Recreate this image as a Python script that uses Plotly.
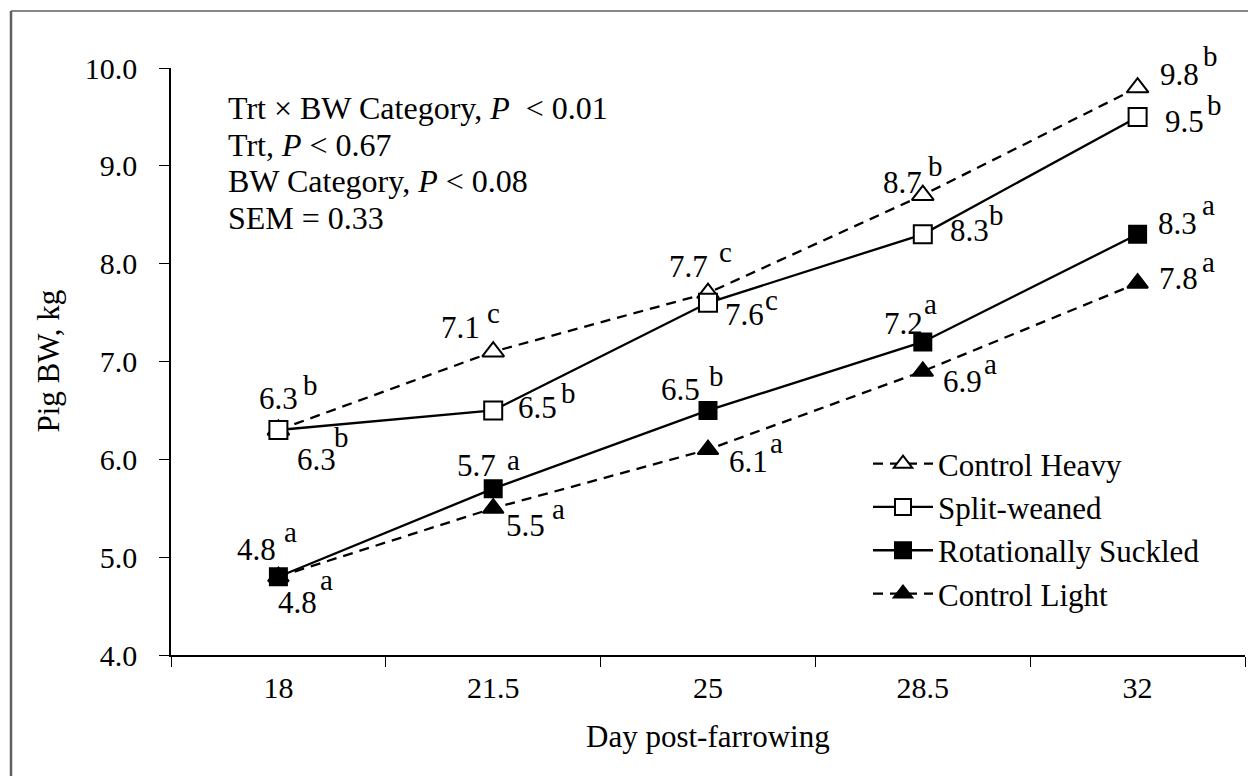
import plotly.graph_objects as go

# ---- data ----
days = ["18", "21.5", "25", "28.5", "32"]

control_heavy = [6.3, 7.1, 7.7, 8.7, 9.8]
split_weaned = [6.3, 6.5, 7.6, 8.3, 9.5]
rot_suckled = [4.8, 5.7, 6.5, 7.2, 8.3]
control_light = [4.8, 5.5, 6.1, 6.9, 7.8]

ch_letters = ["b", "c", "c", "b", "b"]
sw_letters = ["b", "b", "c", "b", "b"]
rs_letters = ["a", "a", "b", "a", "a"]
cl_letters = ["a", "a", "a", "a", "a"]

y_ticks = [4.0, 5.0, 6.0, 7.0, 8.0, 9.0, 10.0]

stats_lines = [
    "Trt \u00d7 BW Category, <i>P</i>\u00a0\u00a0< 0.01",
    "Trt, <i>P</i> < 0.67",
    "BW Category, <i>P</i> < 0.08",
    "SEM = 0.33",
]

# ---- label placement (screen px): number centre offset from the point,
#      then the letter offset from the number ----
ch_place = [(0, -31, 32, -14), (-33, -24, 33, -12), (-20, -27, 37, -11),
            (-20, -13, 33, -16), (42, -13, 31, -19)]
sw_place = [(38, 30, 25, -23), (44, -3, 31, -14), (36, 12, 27, -12),
            (47, -4, 27, -15), (47, 5, 30, -17)]
rs_place = [(-22, -27, 34, -15), (-17, -23, 37, -3), (-28, -21, 36, -13),
            (-19, -18, 27, -17), (40, -11, 31, -15)]
cl_place = [(19, 26, 29, -20), (32, 17, 33, -13), (40, 12, 28, -16),
            (40, 10, 28, -14), (41, -5, 30, -13)]

FONT = "Liberation Serif"
W, H = 1248, 776
L, R, T, B = 171, 3, 68, 121
PW, PH = W - L - R, H - T - B


def px_x(p):
    return (p - L) / PW


def px_y(p):
    return (H - B - p) / PH


xs = list(range(len(days)))

series = [
    # name, values, symbol, fill, dash, legend rank, marker size
    ("Control Heavy", control_heavy, "triangle-up", "white", "10px,7px", 1, 19),
    ("Split-weaned", split_weaned, "square", "white", "solid", 2, 18),
    ("Control Light", control_light, "triangle-up", "black", "10px,7px", 4, 18),
    ("Rotationally Suckled", rot_suckled, "square", "black", "solid", 3, 17),
]

fig = go.Figure()
for name, vals, sym, fill, dash, rank, size in series:
    fig.add_trace(go.Scatter(
        x=xs, y=vals, name=name, mode="lines+markers",
        line=dict(color="black", width=2.3, dash=dash),
        marker=dict(symbol=sym, size=size, color=fill,
                    line=dict(color="black", width=2)),
        legendrank=rank,
        cliponaxis=False,
    ))

annotations = []
for vals, letters, place in [
    (control_heavy, ch_letters, ch_place),
    (split_weaned, sw_letters, sw_place),
    (rot_suckled, rs_letters, rs_place),
    (control_light, cl_letters, cl_place),
]:
    for i, (v, let, (dx, dy, lx, ly)) in enumerate(zip(vals, letters, place)):
        annotations.append(dict(
            x=i, y=v, xref="x", yref="y", text=f"{v:.1f}", showarrow=False,
            xanchor="center", yanchor="middle", xshift=dx, yshift=-dy,
            font=dict(family=FONT, size=31, color="black"),
        ))
        lift = 3 if let in "ac" else 0
        annotations.append(dict(
            x=i, y=v, xref="x", yref="y", text=let, showarrow=False,
            xanchor="center", yanchor="middle", xshift=dx + lx,
            yshift=-(dy + ly) + lift,
            font=dict(family=FONT, size=29, color="black"),
        ))

# statistics block
for k, line in enumerate(stats_lines):
    annotations.append(dict(
        x=px_x(226), y=px_y(108 + 36.7 * k), xref="paper", yref="paper",
        text=line, showarrow=False, xanchor="left", yanchor="middle",
        font=dict(family=FONT, size=32, color="black"),
    ))

# axis titles
annotations.append(dict(
    x=px_x(48), y=0.5, xref="paper", yref="paper", text="Pig BW, kg",
    textangle=-90, showarrow=False, xanchor="center", yanchor="middle",
    font=dict(family=FONT, size=31, color="black"),
))
annotations.append(dict(
    x=0.5, y=px_y(737), xref="paper", yref="paper", text="Day post-farrowing",
    showarrow=False, xanchor="center", yanchor="middle",
    font=dict(family=FONT, size=31, color="black"),
))

# outer chart frame (left and top edges)
shapes = [
    dict(type="line", xref="paper", yref="paper",
         x0=px_x(11), x1=px_x(11), y0=px_y(790), y1=px_y(11),
         line=dict(color="#5f5f5f", width=2.5)),
    dict(type="line", xref="paper", yref="paper",
         x0=px_x(11), x1=px_x(1260), y0=px_y(11), y1=px_y(11),
         line=dict(color="#5f5f5f", width=1.5)),
]

fig.update_layout(
    width=W, height=H,
    margin=dict(l=L, r=R, t=T, b=B, pad=0),
    paper_bgcolor="white", plot_bgcolor="white",
    font=dict(family=FONT, size=30, color="black"),
    showlegend=True,
    legend=dict(
        x=px_x(868), y=px_y(437), xanchor="left", yanchor="top",
        font=dict(family=FONT, size=31, color="black"),
        bgcolor="rgba(0,0,0,0)", borderwidth=0, itemwidth=60,
        traceorder="normal",
    ),
    xaxis=dict(
        range=[-0.5, len(days) - 0.5], tickvals=xs, ticktext=days,
        ticks="", showgrid=False, zeroline=False,
        showline=True, linecolor="black", linewidth=1.5,
        ticklabelstandoff=5,
        tickfont=dict(family=FONT, size=30, color="black"),
        minor=dict(ticks="outside", tick0=-0.5, dtick=1, ticklen=10,
                   tickwidth=1.2, tickcolor="black", showgrid=False),
    ),
    yaxis=dict(
        range=[y_ticks[0], y_ticks[-1]], tickvals=y_ticks, tickformat=".1f",
        ticks="outside", ticklen=10, tickwidth=1.2, tickcolor="black",
        showgrid=False, zeroline=False,
        showline=True, linecolor="black", linewidth=1.5,
        ticklabelstandoff=16,
        tickfont=dict(family=FONT, size=30, color="black"),
    ),
    annotations=annotations,
    shapes=shapes,
)

fig.write_html("out.html")
